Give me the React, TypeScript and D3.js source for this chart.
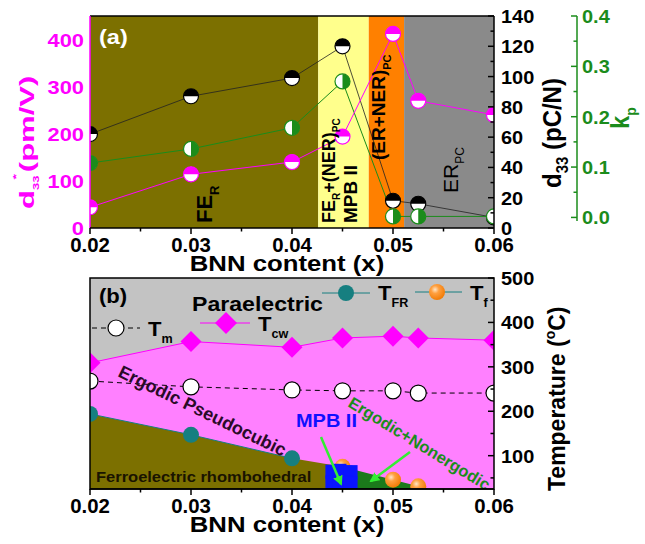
import React from "react";
import * as d3 from "d3";

// ---------- panel (a): piezoelectric response vs BNN content ----------
const contentTop = [0.02, 0.03, 0.04, 0.045, 0.05, 0.0525, 0.06];
const d33StarValues = [44, 114, 140, 194, 412, 270, 240];
const d33Values = [62, 87, 99, 120, 18, 16, 7];
const kpValues = [0.108, 0.136, 0.178, 0.27, 0.002, 0.002, 0.002];
const phaseBounds = [0.02, 0.0426, 0.0476, 0.0511, 0.06];
const phaseColors = ["#7c7000", "#ffff8c", "#ff8000", "#8a8a8a"];

// ---------- panel (b): phase diagram ----------
const contentBottom = [0.02, 0.03, 0.04, 0.045, 0.05, 0.0525, 0.06];
const tcwValues = [309, 357, 344, 365, 369, 365, 360];
const tmValues = [268, 255, 248, 246, 246, 241, 241];
const tfrContent = [0.02, 0.03, 0.04];
const tfrValues = [194, 147, 94];
const tfContent = [0.045, 0.05, 0.0525, 0.0535];
const tfValues = [75, 46, 31, 25];
const mpbContent = [0.0440, 0.0447, 0.0453, 0.0458, 0.0440, 0.0447, 0.0453, 0.0458];
const mpbValues = [64, 66, 62, 63, 40, 36, 40, 37];

// ---------- ticks ----------
const xTicks = [0.02, 0.03, 0.04, 0.05, 0.06];
const xMinorTicks = [0.025, 0.035, 0.045, 0.055];
const d33StarTicks = [0, 100, 200, 300, 400];
const d33Ticks = [0, 20, 40, 60, 80, 100, 120, 140];
const d33MinorTicks = [10, 30, 50, 70, 90, 110, 130];
const kpTicks = [0, 0.1, 0.2, 0.3, 0.4];
const kpMinorTicks = [0.05, 0.15, 0.25, 0.35];
const tempTicks = [100, 200, 300, 400, 500];
const tempMinorTicks = [50, 150, 250, 350, 450];

const FONT = "'Liberation Sans', Arial, Helvetica, sans-serif";
const MAGENTA = "#ff00ff";
const GREEN = "#1b8c1b";
const TEAL = "#167f80";

const L = 90, R = 494;
const A_TOP = 16, A_BOT = 228;
const B_TOP = 278, B_BOT = 489;

const x = d3.scaleLinear().domain([0.02, 0.06]).range([L, R]);
const yStar = d3.scaleLinear().domain([0, 450]).range([A_BOT, A_TOP]);
const yD33 = d3.scaleLinear().domain([0, 140]).range([A_BOT, A_TOP]);
const yKp = d3.scaleLinear().domain([-0.021, 0.4]).range([A_BOT, A_TOP]);
const yT = d3.scaleLinear().domain([25, 500]).range([B_BOT, B_TOP]);

type TxtProps = {
  x: number; y: number; size: number; fill?: string; anchor?: string;
  rot?: number; sx?: number; weight?: string; children?: React.ReactNode;
};
function Txt({ x, y, size, fill = "#000", anchor = "start", rot = 0, sx = 1.12, weight = "bold", children }: TxtProps) {
  return (
    <text
      transform={`translate(${x},${y}) scale(${sx},1) rotate(${rot})`}
      fontSize={size}
      fontWeight={weight}
      fill={fill}
      textAnchor={anchor as any}
      fontFamily={FONT}
    >
      {children}
    </text>
  );
}

// half-filled circle: "top" = upper half coloured, "right" = right half coloured
function HalfCircle({ cx, cy, r, color, half }: { cx: number; cy: number; r: number; color: string; half: "top" | "right" }) {
  const d =
    half === "top"
      ? `M${cx - r},${cy} A${r},${r} 0 0 1 ${cx + r},${cy} Z`
      : `M${cx},${cy - r} A${r},${r} 0 0 1 ${cx},${cy + r} Z`;
  return (
    <g>
      <circle cx={cx} cy={cy} r={r} fill="#fff" />
      <path d={d} fill={color} />
      <circle cx={cx} cy={cy} r={r} fill="none" stroke={color} strokeWidth={1.2} />
    </g>
  );
}

function Diamond({ cx, cy, s, fill }: { cx: number; cy: number; s: number; fill: string }) {
  return <path d={`M${cx},${cy - s} L${cx + s},${cy} L${cx},${cy + s} L${cx - s},${cy} Z`} fill={fill} />;
}

function XAxis({ y }: { y: number }) {
  return (
    <g>
      <line x1={L} x2={R} y1={y} y2={y} stroke="#000" strokeWidth={1.5} />
      {xTicks.map((t) => (
        <line key={"M" + t} x1={x(t)} x2={x(t)} y1={y} y2={y + 6} stroke="#000" strokeWidth={1.5} />
      ))}
      {xMinorTicks.map((t) => (
        <line key={"m" + t} x1={x(t)} x2={x(t)} y1={y} y2={y + 3.5} stroke="#000" strokeWidth={1.5} />
      ))}
      {xTicks.map((t) => (
        <Txt key={"l" + t} x={x(t)} y={y + 24} size={20} anchor="middle" sx={1.02}>
          {t.toFixed(2)}
        </Txt>
      ))}
      <Txt x={(L + R) / 2 - 5} y={y + 43} size={23} anchor="middle">
        BNN content (x)
      </Txt>
    </g>
  );
}

export default function App() {
  const lineTop = (vals: number[], ys: (v: number) => number) =>
    d3.line<number>().x((_, i) => x(contentTop[i])).y((v) => ys(v))(vals) as string;

  const lineB = (xs: number[], vals: number[]) =>
    d3.line<number>().x((_, i) => x(xs[i])).y((v) => yT(v))(vals) as string;

  // filled regions of the phase diagram
  const areaGen = (xs: number[], vals: number[], base: number) =>
    d3.area<number>().x((_, i) => x(xs[i])).y0(yT(base)).y1((v) => yT(v))(vals) as string;

  const pinkArea = areaGen(contentBottom, tcwValues, 25);
  const oliveXs = [...tfrContent, 0.045];
  const oliveVals = [...tfrValues, 75];
  const oliveArea = areaGen(oliveXs, oliveVals, 25);
  const greenArea = areaGen(tfContent, tfValues, 25);

  const sq = 14;

  return (
    <svg width={645} height={544} style={{ display: "block", position: "absolute", left: 0, top: 0 }}>
      <defs>
        <clipPath id="clipA">
          <rect x={L} y={A_TOP} width={R - L} height={A_BOT - A_TOP} />
        </clipPath>
        <clipPath id="clipB">
          <rect x={L} y={B_TOP} width={R - L} height={B_BOT - B_TOP} />
        </clipPath>
        <radialGradient id="orangeBall" cx="0.38" cy="0.35" r="0.7">
          <stop offset="0" stopColor="#ffe6c8" />
          <stop offset="0.35" stopColor="#ffa040" />
          <stop offset="1" stopColor="#f07800" />
        </radialGradient>
        <marker id="arrowHead" viewBox="0 0 10 10" refX="8" refY="5" markerWidth="4" markerHeight="4" orient="auto">
          <path d="M0,0 L10,5 L0,10 Z" fill="#33ee33" />
        </marker>
      </defs>
      <rect x={0} y={0} width={645} height={544} fill="#fff" />

      {/* ================= panel (a) ================= */}
      <g clipPath="url(#clipA)">
        {phaseColors.map((c, i) => (
          <rect key={c} x={x(phaseBounds[i])} y={A_TOP} width={x(phaseBounds[i + 1]) - x(phaseBounds[i])} height={A_BOT - A_TOP} fill={c} />
        ))}
        <path d={lineTop(d33Values, yD33)} fill="none" stroke="#222" strokeWidth={0.8} />
        <path d={lineTop(kpValues, yKp)} fill="none" stroke={GREEN} strokeWidth={1} />
        <path d={lineTop(d33StarValues, yStar)} fill="none" stroke={MAGENTA} strokeWidth={1} />
        {d33Values.map((v, i) => (
          <HalfCircle key={"b" + i} cx={x(contentTop[i])} cy={yD33(v)} r={7.5} color="#000" half="top" />
        ))}
        {kpValues.map((v, i) => (
          <HalfCircle key={"g" + i} cx={x(contentTop[i])} cy={yKp(v)} r={7.5} color={GREEN} half="right" />
        ))}
        {d33StarValues.map((v, i) => (
          <HalfCircle key={"p" + i} cx={x(contentTop[i])} cy={yStar(v)} r={7.5} color={MAGENTA} half="top" />
        ))}

        {/* phase labels */}
        <Txt x={212} y={223} size={22} rot={-90} sx={1}>
          FE<tspan fontSize={13} dy={7}>R</tspan>
        </Txt>
        <Txt x={335} y={223} size={18} rot={-90} sx={1}>
          FE<tspan fontSize={10} dy={5}>R</tspan>
          <tspan dy={-5}>+(NER)</tspan>
          <tspan fontSize={10} dy={5}>PC</tspan>
        </Txt>
        <Txt x={357} y={223} size={19} rot={-90} sx={1}>
          MPB II
        </Txt>
        <Txt x={385} y={160} size={19} rot={-90} sx={1}>
          (ER+NER)<tspan fontSize={11} dy={6}>PC</tspan>
        </Txt>
        <Txt x={458} y={193} size={21} rot={-90} sx={1} weight="normal">
          ER<tspan fontSize={12} dy={6}>PC</tspan>
        </Txt>
        <Txt x={99} y={44} size={21} fill="#fff">
          (a)
        </Txt>
      </g>
      {/* frame */}
      <line x1={L} x2={R} y1={A_TOP} y2={A_TOP} stroke="#000" strokeWidth={1.5} />
      <line x1={R} x2={R} y1={A_TOP} y2={A_BOT} stroke="#000" strokeWidth={1.5} />
      <line x1={L} x2={L} y1={A_TOP} y2={A_BOT} stroke={MAGENTA} strokeWidth={1.5} />
      <XAxis y={A_BOT} />

      {/* left axis: d33* */}
      {d33StarTicks.map((t) => (
        <Txt key={"ls" + t} x={84} y={yStar(t) + 7} size={19} anchor="end" fill={MAGENTA} sx={1.15}>
          {t}
        </Txt>
      ))}
      <Txt x={34} y={209} size={31} rot={-90} fill={MAGENTA} sx={0.68}>
        d<tspan fontSize={13} dy={8}>33</tspan>
        <tspan fontSize={14} dx={-4} dy={-30}>*</tspan>
        <tspan dy={22} dx={2}>(pm/V)</tspan>
      </Txt>

      {/* right axis: d33 */}
      {d33Ticks.map((t) => (
        <line key={"rt" + t} x1={R} x2={R - 6} y1={yD33(t)} y2={yD33(t)} stroke="#000" strokeWidth={1.5} />
      ))}
      {d33MinorTicks.map((t) => (
        <line key={"rm" + t} x1={R} x2={R - 3.5} y1={yD33(t)} y2={yD33(t)} stroke="#000" strokeWidth={1.5} />
      ))}
      {d33Ticks.map((t) => (
        <Txt key={"rl" + t} x={501} y={yD33(t) + 7} size={19} sx={1.05}>
          {t}
        </Txt>
      ))}
      <Txt x={561} y={188} size={24} rot={-90} sx={1.05}>
        d<tspan fontSize={15} dy={7}>33</tspan>
        <tspan dy={-7}> (pC/N)</tspan>
      </Txt>

      {/* kp axis */}
      <line x1={577} x2={577} y1={yKp(0.4)} y2={yKp(-0.007)} stroke={GREEN} strokeWidth={1.5} />
      {kpTicks.map((t) => (
        <line key={"kt" + t} x1={577} x2={571} y1={yKp(t)} y2={yKp(t)} stroke={GREEN} strokeWidth={1.5} />
      ))}
      {kpMinorTicks.map((t) => (
        <line key={"km" + t} x1={577} x2={573.5} y1={yKp(t)} y2={yKp(t)} stroke={GREEN} strokeWidth={1.5} />
      ))}
      {kpTicks.map((t) => (
        <Txt key={"kl" + t} x={582} y={yKp(t) + 7} size={19} fill={GREEN} sx={1.05}>
          {t.toFixed(1)}
        </Txt>
      ))}
      <Txt x={629} y={129} size={24} rot={-90} fill={GREEN} sx={1.05}>
        k<tspan fontSize={14} dy={7}>p</tspan>
      </Txt>

      {/* ================= panel (b) ================= */}
      <g clipPath="url(#clipB)">
        <rect x={L} y={B_TOP} width={R - L} height={B_BOT - B_TOP} fill="#c3c3c3" />
        <path d={pinkArea} fill="#ff80ff" />
        <path d={oliveArea} fill="#7c7000" />
        <path d={greenArea} fill="#1b7a1b" />
        <path d={lineB(contentBottom, tcwValues)} fill="none" stroke={MAGENTA} strokeWidth={1} />
        <path d={lineB(tfrContent, tfrValues)} fill="none" stroke={TEAL} strokeWidth={1} />
        <path d={lineB(contentBottom, tmValues)} fill="none" stroke="#000" strokeWidth={1} strokeDasharray="5,4" />

        {tcwValues.map((v, i) => (
          <Diamond key={"d" + i} cx={x(contentBottom[i])} cy={yT(v)} s={10.5} fill={MAGENTA} />
        ))}
        {tmValues.map((v, i) => (
          <circle key={"c" + i} cx={x(contentBottom[i])} cy={yT(v)} r={8} fill="#fff" stroke="#000" strokeWidth={1.2} />
        ))}
        {tfrValues.map((v, i) => (
          <circle key={"f" + i} cx={x(tfrContent[i])} cy={yT(v)} r={8} fill={TEAL} />
        ))}
        {tfValues.slice(0, 3).map((v, i) => (
          <circle key={"o" + i} cx={x(tfContent[i])} cy={yT(v)} r={8} fill="url(#orangeBall)" />
        ))}
        {mpbValues.map((v, i) => (
          <rect key={"s" + i} x={x(mpbContent[i]) - sq / 2} y={yT(v) - sq / 2} width={sq} height={sq} fill="#0a14ff" />
        ))}

        {/* region labels */}
        <Txt x={99} y={303} size={21} sx={1.05}>
          (b)
        </Txt>
        <Txt x={192} y={311} size={21} sx={1.1}>
          Paraelectric
        </Txt>
        <Txt x={96} y={482} size={15} sx={1.1} fill="#1a1400">
          Ferroelectric rhombohedral
        </Txt>
        <Txt x={117} y={376} size={18} rot={26} sx={1} fill="#2a0a28">
          Ergodic Pseudocubic
        </Txt>
        <Txt x={347} y={406} size={16.5} rot={31.5} sx={1} fill={GREEN}>
          Ergodic+Nonergodic
        </Txt>
        <Txt x={296} y={427} size={19} sx={1.05} fill="#1010ff">
          MPB II
        </Txt>
        <line x1={321} y1={437} x2={341} y2={484} stroke="#33ee33" strokeWidth={2.5} markerEnd="url(#arrowHead)" />
        <line x1={410} y1={452} x2={371} y2={481} stroke="#33ee33" strokeWidth={2.5} markerEnd="url(#arrowHead)" />

        {/* legend */}
        <line x1={92} x2={140} y1={328} y2={328} stroke="#000" strokeWidth={1} strokeDasharray="5,4" />
        <circle cx={116} cy={328} r={8} fill="#fff" stroke="#000" strokeWidth={1.2} />
        <Txt x={148} y={336} size={21} sx={1.05}>
          T<tspan fontSize={12} dy={7}>m</tspan>
        </Txt>
        <line x1={200} x2={250} y1={323} y2={323} stroke={MAGENTA} strokeWidth={1} />
        <Diamond cx={226} cy={323} s={11} fill={MAGENTA} />
        <Txt x={258} y={331} size={21} sx={1.05}>
          T<tspan fontSize={12} dy={7}>cw</tspan>
        </Txt>
        <line x1={322} x2={370} y1={293} y2={293} stroke={TEAL} strokeWidth={1} />
        <circle cx={346} cy={293} r={8} fill={TEAL} />
        <Txt x={378} y={300} size={21} sx={1.05}>
          T<tspan fontSize={12} dy={7}>FR</tspan>
        </Txt>
        <line x1={415} x2={462} y1={292} y2={292} stroke={TEAL} strokeWidth={1} />
        <circle cx={437} cy={292} r={8} fill="url(#orangeBall)" />
        <Txt x={470} y={300} size={21} sx={1.05}>
          T<tspan fontSize={12} dy={7}>f</tspan>
        </Txt>
      </g>
      <rect x={L} y={B_TOP} width={R - L} height={B_BOT - B_TOP} fill="none" stroke="#000" strokeWidth={1.5} />
      <XAxis y={B_BOT} />

      {/* temperature axis */}
      {tempTicks.map((t) => (
        <line key={"tt" + t} x1={R} x2={R - 6} y1={yT(t)} y2={yT(t)} stroke="#000" strokeWidth={1.5} />
      ))}
      {tempMinorTicks.map((t) => (
        <line key={"tm" + t} x1={R} x2={R - 3.5} y1={yT(t)} y2={yT(t)} stroke="#000" strokeWidth={1.5} />
      ))}
      {tempTicks.map((t) => (
        <Txt key={"tl" + t} x={501} y={yT(t) + 7} size={19} sx={1.05}>
          {t}
        </Txt>
      ))}
      <Txt x={565} y={491} size={23} rot={-90} sx={1.05}>
        Temperature (<tspan fontSize={14} dy={-10}>o</tspan>
        <tspan dy={10}>C)</tspan>
      </Txt>
    </svg>
  );
}
